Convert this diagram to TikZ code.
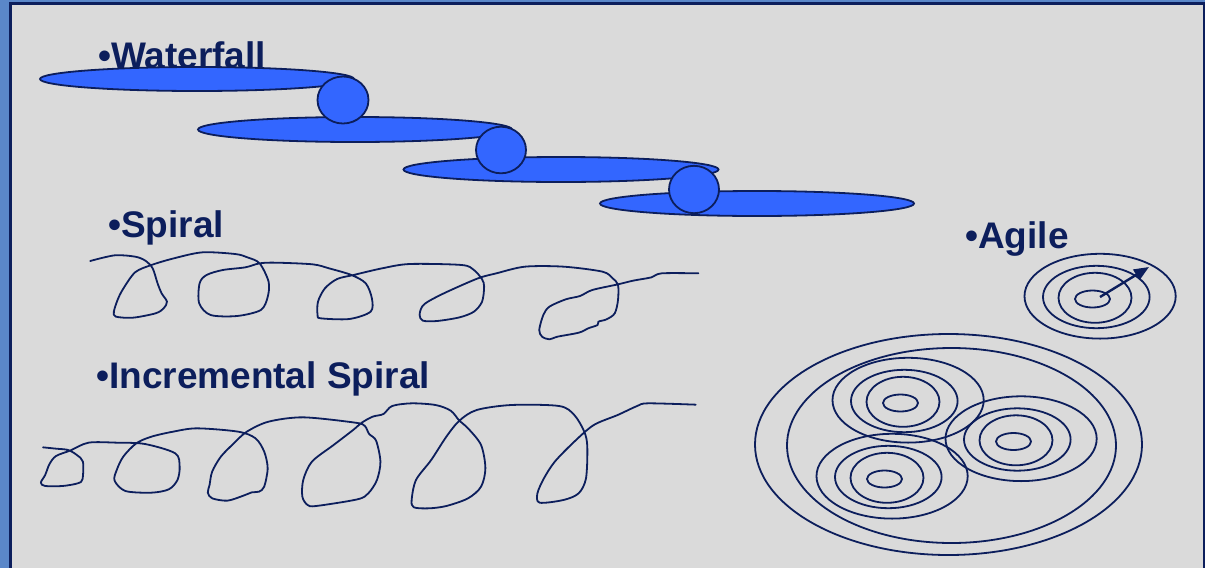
\documentclass[tikz,border=0pt]{standalone}
\usepackage{fontspec}
\setmainfont{Liberation Sans}
\usetikzlibrary{arrows.meta}
\definecolor{navy}{RGB}{12,30,92}
\definecolor{frameblue}{RGB}{90,135,201}
\definecolor{bggray}{RGB}{218,218,218}
\definecolor{wfblue}{RGB}{51,102,255}
\begin{document}
\begin{tikzpicture}[x=1pt,y=-1pt,
  lbl/.style={anchor=base west, inner sep=0pt, text=navy, font=\fontsize{37}{42}\selectfont\bfseries},
  wf/.style={draw=navy, fill=wfblue, line width=1.8pt},
  sp/.style={draw=navy, line width=1.8pt, line join=round, line cap=round},
  ring/.style={draw=navy, line width=1.8pt},
  target/.pic={
    \draw[ring] (0,0) ellipse [x radius=17.5pt, y radius=8.5pt];
    \draw[ring] (2.5,-1.2) ellipse [x radius=36.5pt, y radius=25pt];
    \draw[ring] (3.8,-2) ellipse [x radius=53.3pt, y radius=31.2pt];
    \draw[ring] (7.6,-2.8) ellipse [x radius=75.6pt, y radius=42.4pt];
  }]
\useasboundingbox (0,0) rectangle (1205,568);
% frame
\fill[frameblue] (0,0) rectangle (1205,568);
\fill[navy] (9,2) rectangle (1205,568);
\fill[bggray] (12,5) rectangle (1203,568);

% labels
\node[lbl] (wtxt) at (98,68) {•Waterfall};
\node[lbl] (stxt) at (108,237) {•Spiral};
\node[lbl] (itxt) at (96,388) {•Incremental Spiral};
\node[lbl] (atxt) at (965,248) {•Agile};

% waterfall
\draw[wf] (197,79) ellipse [x radius=157pt, y radius=12pt];
\draw[wf] (355,129.5) ellipse [x radius=157pt, y radius=12.5pt];
\draw[wf] (561,169.5) ellipse [x radius=157.5pt, y radius=12.5pt];
\draw[wf] (757,203.5) ellipse [x radius=157pt, y radius=12.5pt];
\draw[wf] (343,100) ellipse [x radius=25.5pt, y radius=23.5pt];
\draw[wf] (501,150) ellipse [x radius=25pt, y radius=23.3pt];
\draw[wf] (694,189.5) ellipse [x radius=25pt, y radius=23.7pt];

% spiral
\begin{scope}[shift={(80,240)}, xscale=0.4082, yscale=0.3333]
\draw[sp] plot[smooth, tension=0.5] coordinates {
(25,63) (85,46) (135,50) (160,62) (178,85) (190,130) (200,160) (213,185) (205,205) (185,220) (130,233) (88,230) (83,215) (92,180) (105,148) (135,97) (175,75) (230,55) (300,37) (380,42) (410,52) (440,70) (462,125) (460,170) (443,210) (385,228) (320,225) (292,190) (293,130) (310,105) (350,90) (405,82) (440,70) (480,68) (570,73) (610,85) (665,105) (700,130) (715,175) (712,215) (660,237) (590,235) (582,225) (583,185) (600,145) (630,117) (670,105) (740,85) (808,72) (935,75) (965,90) (985,118) (990,140) (985,185) (965,215) (930,232) (875,243) (840,242) (832,225) (838,200) (855,183) (900,155) (975,115) (1020,100) (1090,80) (1185,80) (1280,95) (1305,115) (1318,135) (1318,180) (1310,220) (1290,238) (1270,245) (1268,255) (1245,265) (1222,278) (1170,290) (1150,298) (1132,290) (1125,270) (1135,225) (1150,200) (1190,178) (1225,168) (1255,150) (1318,133) (1355,122) (1400,112) (1425,100) (1515,100)};
\end{scope}

% incremental spiral
\begin{scope}[shift={(30,390)}, xscale=0.4337, yscale=0.3333]
\draw[sp] plot[smooth, tension=0.5] coordinates {
(30,172) (60,176) (88,180) (108,195) (122,215) (121,268) (110,280) (75,288) (35,288) (25,278) (35,255) (45,222) (60,198) (92,182) (135,158) (200,158) (265,162) (335,190) (345,230) (340,270) (320,298) (280,308) (220,303) (195,272) (200,240) (215,200) (245,160) (280,140) (330,125) (385,115) (480,125) (520,145) (540,185) (548,235) (540,290) (528,305) (512,307) (490,318) (455,332) (420,325) (410,308) (414,285) (420,245) (440,200) (470,160) (500,125) (550,95) (630,82) (750,98) (772,108) (782,132) (798,152) (808,215) (800,270) (780,310) (755,328) (660,348) (640,345) (628,320) (630,270) (650,215) (700,165) (745,120) (765,98) (790,80) (815,72) (835,48) (880,40) (935,45) (970,62) (990,92) (1010,115) (1040,165) (1050,235) (1040,290) (1010,325) (960,348) (920,355) (885,352) (880,330) (890,270) (925,210) (960,140) (990,92) (1030,60) (1110,45) (1220,48) (1255,75) (1278,125) (1285,170) (1282,265) (1265,310) (1230,330) (1175,338) (1170,310) (1185,265) (1210,215) (1255,155) (1300,105) (1355,75) (1400,48) (1425,40) (1535,44)};
\end{scope}

% agile
\draw[ring] (948.5,444.5) ellipse [x radius=193.5pt, y radius=110.5pt];
\draw[ring] (951.5,445.5) ellipse [x radius=164.5pt, y radius=97.5pt];
\pic at (900.5,403) {target};
\pic at (1013.5,441.5) {target};
\pic at (884.5,479) {target};
\pic at (1092.5,299) {target};
\coordinate (arrS) at (1100,297);
\coordinate (arrE) at (1149,267);
\draw[ring, line width=2.4pt, -{Triangle[length=15pt,width=12pt]}] (arrS) -- (arrE);
\end{tikzpicture}
\end{document}
